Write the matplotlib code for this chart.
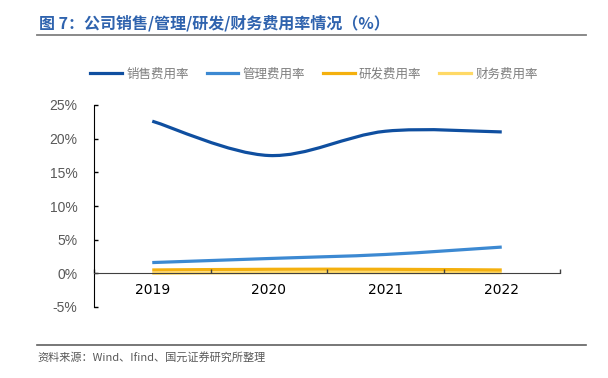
import matplotlib
matplotlib.use('Agg')
import matplotlib.pyplot as plt
from matplotlib.path import Path
from matplotlib.patches import PathPatch
from matplotlib.lines import Line2D
import numpy as np

years = ['2019', '2020', '2021', '2022']
sales = [22.6, 17.5, 21.1, 21.0]
admin = [1.6, 2.2, 2.8, 3.9]
rnd = [0.5, 0.6, 0.6, 0.5]
finance = [0.0, 0.1, 0.1, 0.1]
names = ['销售费用率', '管理费用率', '研发费用率', '财务费用率']
colors = ['#0F4FA0', '#3C89D2', '#F4B00E', '#FFD966']

CJK = ['Noto Sans CJK SC', 'DejaVu Sans']


def smooth_path(xs, ys):
    # Excel-style smoothed line: Bezier segments through the data points
    pts = np.column_stack([xs, ys])
    ext = np.vstack([pts[0], pts, pts[-1]])
    verts = [pts[0]]
    codes = [Path.MOVETO]
    for i in range(len(pts) - 1):
        p0, p1, p2, p3 = ext[i], ext[i + 1], ext[i + 2], ext[i + 3]
        c1 = p1 + (p2 - p0) / 6
        c2 = p2 - (p3 - p1) / 6
        verts += [c1, c2, p2]
        codes += [Path.CURVE4] * 3
    return Path(verts, codes)


def main():
    fig = plt.figure(figsize=(6.08, 3.78), dpi=100)
    ax = fig.add_axes([94 / 608, 1 - 307 / 378, 466 / 608, 202 / 378])
    x = np.arange(len(years))

    series = [sales, admin, rnd, finance]
    for vals, c in reversed(list(zip(series, colors))):
        y = np.array(vals) / 100
        ax.add_patch(PathPatch(smooth_path(x, y), facecolor='none', edgecolor=c,
                               lw=2.3, capstyle='butt'))

    ax.set_xlim(-0.5, 3.5)
    ax.set_ylim(-0.05, 0.25)
    ax.set_yticks(np.arange(-0.05, 0.26, 0.05))
    ax.set_yticklabels(['-5%', '0%', '5%', '10%', '15%', '20%', '25%'],
                       family='Liberation Sans', fontsize=10, color='#595959')
    ax.tick_params(axis='y', direction='in', length=3, width=1, pad=12)

    ax.set_xticks([-0.5, 0.5, 1.5, 2.5, 3.5])
    ax.set_xticklabels([])
    ax.tick_params(axis='x', which='major', direction='in', length=3, width=1, color='#404040')
    ax.set_xticks(x, minor=True)
    ax.set_xticklabels(years, minor=True, family='Liberation Sans', fontsize=10, color='#595959')
    ax.tick_params(axis='x', which='minor', length=0, pad=7)

    ax.spines['top'].set_visible(False)
    ax.spines['right'].set_visible(False)
    ax.spines['bottom'].set_position(('data', 0))
    ax.spines['bottom'].set_color('#404040')
    ax.spines['left'].set_color('#000000')

    handles = [Line2D([], [], color=c, lw=2.3) for c in colors]
    fig.legend(handles, names, loc='center', bbox_to_anchor=(314 / 608, 1 - 74 / 378),
               ncol=4, frameon=False, prop={'family': CJK, 'size': 9, 'weight': 'light'},
               labelcolor='#7F7F7F', handlelength=2.55, handletextpad=0.35,
               columnspacing=1.4)

    fig.text(39 / 608, 1 - 23 / 378, '图 7：公司销售/管理/研发/财务费用率情况（%）',
             family=CJK, fontsize=11.5, fontweight='bold', color='#2F63AE', va='center')
    fig.add_artist(Line2D([37 / 608, 586 / 608], [1 - 34.5 / 378] * 2, color='#808080', lw=1.3))
    fig.add_artist(Line2D([37 / 608, 586 / 608], [1 - 344.5 / 378] * 2, color='#606060', lw=1.2))
    fig.text(37 / 608, 1 - 357 / 378, '资料来源：Wind、Ifind、国元证券研究所整理',
             family=CJK, fontsize=8, color='#595959', va='center')

    fig.savefig('out.png', dpi=100)


if __name__ == '__main__':
    main()
